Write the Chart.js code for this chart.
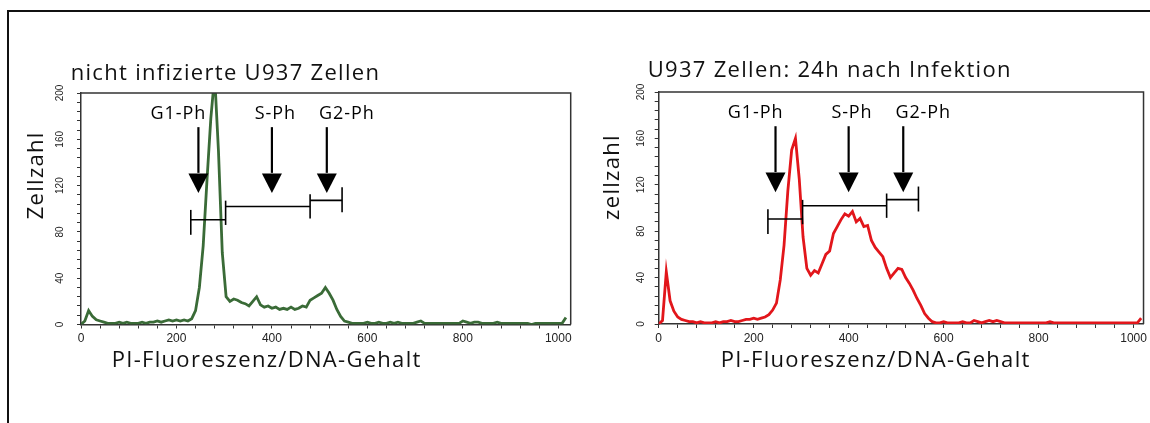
<!DOCTYPE html>
<html><head><meta charset="utf-8">
<script src="https://cdn.jsdelivr.net/npm/chart.js@4.4.1/dist/chart.umd.min.js"></script>
<style>
html,body{margin:0;padding:0;background:#fff;width:1150px;height:423px;overflow:hidden;}
#frame{position:absolute;left:7px;top:10px;width:1200px;height:500px;border-left:2px solid #111;border-top:2px solid #111;}
canvas{position:absolute;top:0;}
#c1{left:0}
#c2{left:600px}
</style></head><body>
<div id="frame"></div>
<canvas id="c1" width="600" height="423"></canvas>
<canvas id="c2" width="550" height="423"></canvas>
<script>
// ---- data ----
const channels = [
  0,8,16,24,32,40,48,56,64,72,80,88,96,104,112,120,
  128,136,144,152,160,168,176,184,192,200,208,216,224,232,240,248,
  256,264,272,280,288,296,304,312,320,328,336,344,352,360,368,376,
  384,392,400,408,416,424,432,440,448,456,464,472,480,488,496,504,
  512,520,528,536,544,552,560,568,576,584,592,600,608,616,624,632,
  640,648,656,664,672,680,688,696,704,712,720,728,736,744,752,760,
  768,776,784,792,800,808,816,824,832,840,848,856,864,872,880,888,
  896,904,912,920,928,936,944,952,960,968,976,984,992,1000,1008,1016
];
const countsUninfected = [
  0,3,12,7,4,3,2,1,1,1,2,1,2,1,1,1,
  2,1,2,2,3,2,3,4,3,4,3,4,3,5,12,32,
  68,125,178,215,150,62,24,20,22,21,19,18,16,20,24,17,
  15,16,14,15,13,14,13,15,13,14,16,15,21,23,25,27,
  32,27,21,13,7,3,2,1,1,1,1,2,1,1,2,1,
  1,2,1,2,1,1,1,1,2,3,1,1,1,1,1,1,
  1,1,1,1,3,2,1,2,2,1,1,1,1,2,1,1,
  1,1,1,1,1,1,0,1,1,1,1,1,1,1,1,6
];
const countsInfected24h = [
  0,3,45,20,11,6,4,3,2,2,1,2,1,1,1,2,
  1,2,2,3,2,2,3,4,4,5,4,5,6,8,12,18,
  38,68,115,150,160,125,75,48,42,46,44,52,60,63,78,84,
  90,95,93,97,88,91,84,85,72,66,62,58,48,40,44,48,
  47,40,35,29,22,16,9,5,2,1,1,2,1,1,1,1,
  2,1,1,3,2,1,2,3,2,3,2,1,1,1,1,1,
  1,1,1,1,1,1,1,2,1,1,1,1,1,1,1,1,
  1,1,1,1,1,1,1,1,1,1,1,1,1,1,1,5
];
const xTickLabels = ['0','200','400','600','800','1000'];
const yTickLabels = ['0','40','80','120','160','200'];
const chartTitles = ['nicht infizierte U937 Zellen', 'U937 Zellen: 24h nach Infektion'];
const yAxisTitles = ['Zellzahl', 'zellzahl'];
const xAxisTitle = 'PI-Fluoreszenz/DNA-Gehalt';
// phase annotations (data units)
const phaseLabels = ['G1-Ph', 'S-Ph', 'G2-Ph'];
const phaseLabelX = [204, 407, 557];
const phaseArrowX = [246, 400, 515];
const bracketStart = [230, 303, 480];
const bracketEnd = [303, 480, 547];
const bracketLevel = [90.5, 102, 107.2];
const bracketCapX = [230, 303, 480, 547];
const bracketCapHigh = [99, 107, 112.5, 118.5];
const bracketCapLow = [77.5, 86, 91.5, 97];

// ---- drawing ----
const mainFont = '"Open Sans", Lato, sans-serif';
const tickFont = '"Liberation Sans", Arial, sans-serif';

const overlay = {
  id: 'overlay',
  afterDraw(chart, args, o) {
    const {ctx, chartArea: a, scales: {x, y}} = chart;
    ctx.save();
    ctx.strokeStyle = '#333'; ctx.lineWidth = 1.5;
    ctx.beginPath(); ctx.moveTo(a.left, a.top); ctx.lineTo(a.right, a.top); ctx.lineTo(a.right, a.bottom); ctx.stroke();
    ctx.fillStyle = '#111';
    ctx.font = '22px ' + mainFont;
    ctx.letterSpacing = '1.3px';
    ctx.textAlign = 'left'; ctx.textBaseline = 'alphabetic';
    ctx.fillText(o.title, a.left + o.titleDx, a.top + o.titleDy);
    ctx.fillText(o.xTitle, a.left + o.xTitleDx, a.bottom + o.xTitleDy);
    ctx.save();
    ctx.translate(a.left + o.yTitleDx, a.top + o.yTitleDy);
    ctx.rotate(-Math.PI / 2);
    ctx.textAlign = 'center';
    ctx.fillText(o.yTitle, 0, 0);
    ctx.restore();
    ctx.font = '18px ' + mainFont;
    ctx.letterSpacing = '0.9px';
    ctx.textAlign = 'center';
    ctx.strokeStyle = '#000'; ctx.fillStyle = '#000';
    for (let i = 0; i < phaseLabels.length; i++) {
      ctx.fillText(phaseLabels[i], x.getPixelForValue(phaseLabelX[i]), y.getPixelForValue(177.5));
      const ax = x.getPixelForValue(phaseArrowX[i]);
      ctx.lineWidth = 2.2;
      ctx.beginPath(); ctx.moveTo(ax, y.getPixelForValue(170.5)); ctx.lineTo(ax, y.getPixelForValue(131)); ctx.stroke();
      const ht = y.getPixelForValue(130.5), tip = y.getPixelForValue(113.5);
      ctx.beginPath(); ctx.moveTo(ax - 10, ht); ctx.lineTo(ax + 10, ht); ctx.lineTo(ax, tip); ctx.closePath(); ctx.fill();
    }
    ctx.lineWidth = 1.6;
    for (let i = 0; i < bracketStart.length; i++) {
      const yy = y.getPixelForValue(bracketLevel[i]);
      ctx.beginPath(); ctx.moveTo(x.getPixelForValue(bracketStart[i]), yy); ctx.lineTo(x.getPixelForValue(bracketEnd[i]), yy); ctx.stroke();
    }
    for (let i = 0; i < bracketCapX.length; i++) {
      const cx = x.getPixelForValue(bracketCapX[i]);
      ctx.beginPath(); ctx.moveTo(cx, y.getPixelForValue(bracketCapHigh[i])); ctx.lineTo(cx, y.getPixelForValue(bracketCapLow[i])); ctx.stroke();
    }
    ctx.restore();
  }
};

function makeChart(id, counts, color, L) {
  return new Chart(document.getElementById(id), {
    type: 'line',
    data: {
      datasets: [{
        data: channels.map((c, i) => ({x: c, y: counts[i]})),
        borderColor: color, borderWidth: 2.8, pointRadius: 0, tension: 0, fill: false,
        borderJoinStyle: 'miter'
      }]
    },
    plugins: [overlay],
    options: {
      responsive: false, animation: false, devicePixelRatio: 1,
      layout: {padding: {top: L.top, right: L.right, bottom: 0, left: 0}},
      plugins: {
        legend: {display: false}, tooltip: {enabled: false},
        overlay: L.text
      },
      scales: {
        x: {
          type: 'linear', min: 0, max: L.xMax,
          afterFit: s => { s.height = L.xAxisHeight; },
          border: {display: true, color: '#333', width: 1.5},
          grid: {drawOnChartArea: false, drawTicks: true, tickLength: 4, color: '#333', lineWidth: 1},
          ticks: {stepSize: 40, autoSkip: false, includeBounds: false, minRotation: 0, maxRotation: 0, padding: 3,
            color: '#222', font: {family: tickFont, size: 12},
            callback: v => xTickLabels.includes(String(v)) ? String(v) : ''}
        },
        y: {
          type: 'linear', min: 0, max: 200,
          afterFit: s => { s.width = L.yAxisWidth; },
          border: {display: true, color: '#333', width: 1.5},
          grid: {drawOnChartArea: false, drawTicks: true, tickLength: 4, color: '#333', lineWidth: 1},
          ticks: {stepSize: 8, autoSkip: false, includeBounds: false, minRotation: 90, maxRotation: 90,
            crossAlign: 'center', padding: L.yTickPad,
            color: '#222', font: {family: tickFont, size: 10},
            callback: v => yTickLabels.includes(String(v)) ? String(v) : ''}
        }
      }
    }
  });
}

makeChart('c1', countsUninfected, '#3a6b37', {
  top: 93, right: 29.3, xMax: 1026, xAxisHeight: 98.5, yAxisWidth: 81, yTickPad: 8.7,
  text: {title: chartTitles[0], titleDx: -10.3, titleDy: -13.5, xTitle: xAxisTitle, xTitleDx: 30.7, xTitleDy: 42.2,
         yTitle: yAxisTitles[0], yTitleDx: -38, yTitleDy: 82.3}
});
makeChart('c2', countsInfected24h, '#e2161b', {
  top: 92, right: 4.7, xMax: 1021, xAxisHeight: 99, yAxisWidth: 58.7, yTickPad: 5.4,
  text: {title: chartTitles[1], titleDx: -11, titleDy: -15.3, xTitle: xAxisTitle, xTitleDx: 62, xTitleDy: 42.7,
         yTitle: yAxisTitles[1], yTitleDx: -40, yTitleDy: 85}
});
</script></body></html>
